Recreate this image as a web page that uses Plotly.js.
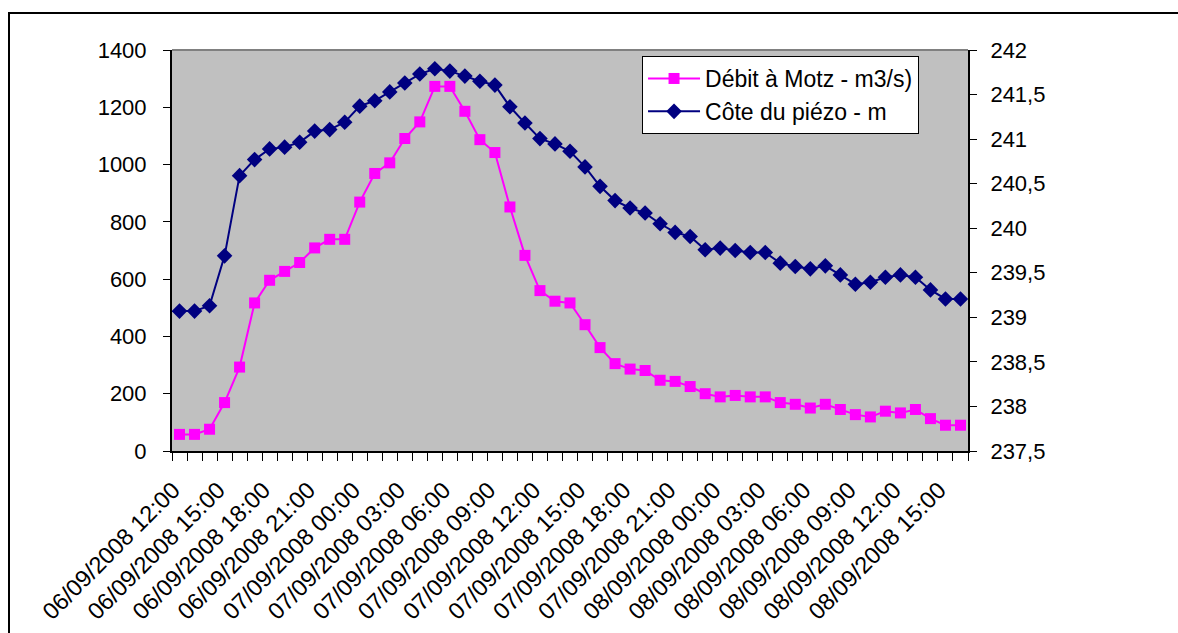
<!DOCTYPE html>
<html>
<head>
<meta charset="utf-8">
<script src="https://cdn.plot.ly/plotly-3.0.1.min.js"></script>
<style>
  html, body { margin: 0; padding: 0; width: 1178px; height: 633px; overflow: hidden; background: #ffffff; }
  #chart { position: absolute; left: 0; top: 0; width: 1178px; height: 633px; }
  #frame { position: absolute; left: 8px; top: 12px; width: 1300px; height: 800px; border: 2px solid #000; pointer-events: none; }
</style>
</head>
<body>
<div id="chart"></div>
<div id="frame"></div>
<script>
// Hourly timestamps (06/09/2008 12:00 -> 08/09/2008 16:00)
const times = [
  "2008-09-06 12:00","2008-09-06 13:00","2008-09-06 14:00","2008-09-06 15:00","2008-09-06 16:00",
  "2008-09-06 17:00","2008-09-06 18:00","2008-09-06 19:00","2008-09-06 20:00","2008-09-06 21:00",
  "2008-09-06 22:00","2008-09-06 23:00","2008-09-07 00:00","2008-09-07 01:00","2008-09-07 02:00",
  "2008-09-07 03:00","2008-09-07 04:00","2008-09-07 05:00","2008-09-07 06:00","2008-09-07 07:00",
  "2008-09-07 08:00","2008-09-07 09:00","2008-09-07 10:00","2008-09-07 11:00","2008-09-07 12:00",
  "2008-09-07 13:00","2008-09-07 14:00","2008-09-07 15:00","2008-09-07 16:00","2008-09-07 17:00",
  "2008-09-07 18:00","2008-09-07 19:00","2008-09-07 20:00","2008-09-07 21:00","2008-09-07 22:00",
  "2008-09-07 23:00","2008-09-08 00:00","2008-09-08 01:00","2008-09-08 02:00","2008-09-08 03:00",
  "2008-09-08 04:00","2008-09-08 05:00","2008-09-08 06:00","2008-09-08 07:00","2008-09-08 08:00",
  "2008-09-08 09:00","2008-09-08 10:00","2008-09-08 11:00","2008-09-08 12:00","2008-09-08 13:00",
  "2008-09-08 14:00","2008-09-08 15:00","2008-09-08 16:00"
];

// Tick labels (every third hour)
const tickLabels = [
  "06/09/2008 12:00","06/09/2008 15:00","06/09/2008 18:00","06/09/2008 21:00",
  "07/09/2008 00:00","07/09/2008 03:00","07/09/2008 06:00","07/09/2008 09:00",
  "07/09/2008 12:00","07/09/2008 15:00","07/09/2008 18:00","07/09/2008 21:00",
  "08/09/2008 00:00","08/09/2008 03:00","08/09/2008 06:00","08/09/2008 09:00",
  "08/09/2008 12:00","08/09/2008 15:00"
];

// Débit à Motz (m3/s) - left axis
const debit = [
  58, 58, 76, 169, 293, 517, 596, 627, 658, 709,
  739, 739, 869, 969, 1006, 1091, 1149, 1273, 1273, 1186,
  1087, 1042, 852, 683, 560, 523, 517, 441, 361, 305,
  286, 281, 247, 243, 225, 200, 189, 194, 189, 189,
  169, 163, 150, 163, 145, 127, 119, 139, 133, 145,
  113, 90, 90
];

// Côte du piézo (m) - right axis
const cote = [
  239.07, 239.07, 239.13, 239.69, 240.59, 240.77, 240.89, 240.91, 240.965, 241.09,
  241.107, 241.19, 241.37, 241.43, 241.53, 241.63, 241.73, 241.79, 241.763, 241.707,
  241.65, 241.606, 241.363, 241.18, 241.006, 240.946, 240.863, 240.688, 240.47, 240.31,
  240.227, 240.17, 240.05, 239.953, 239.907, 239.758, 239.777, 239.75, 239.727, 239.727,
  239.608, 239.57, 239.544, 239.578, 239.476, 239.372, 239.394, 239.45, 239.476, 239.45,
  239.308, 239.206, 239.206
];

const seriesNames = ["Débit à Motz - m3/s)", "Côte du piézo - m"];

const FONT = "Liberation Sans, Arial, sans-serif";

// Tick label anchors: every 3rd timestamp, nudged slightly left (label end sits left of the point, like Excel)
const toMs = s => Date.parse(s.replace(" ", "T") + ":00Z");
const fmt = ms => new Date(ms).toISOString().slice(0, 19).replace("T", " ");
const tickVals = tickLabels.map((_, k) => fmt(toMs(times[3 * k]) - 25 * 60000));

const traces = [
  {
    x: times, y: debit, name: seriesNames[0], type: "scatter", mode: "lines+markers",
    yaxis: "y",
    line: { color: "#ff00ff", width: 2 },
    marker: { symbol: "square", size: 11, color: "#ff00ff" }
  },
  {
    x: times, y: cote, name: seriesNames[1], type: "scatter", mode: "lines+markers",
    yaxis: "y2",
    line: { color: "#000080", width: 2 },
    marker: { symbol: "diamond", size: 12, color: "#000080" }
  }
];

const layout = {
  width: 1178, height: 633,
  margin: { l: 172, r: 210, t: 50, b: 182, pad: 0 },
  paper_bgcolor: "#ffffff",
  plot_bgcolor: "#c0c0c0",
  separators: ", ",
  font: { family: FONT, size: 22, color: "#000" },
  showlegend: true,
  legend: {
    x: 0.5905, y: 0.985, xanchor: "left", yanchor: "top",
    bgcolor: "#ffffff", bordercolor: "#000", borderwidth: 1,
    font: { family: FONT, size: 23, color: "#000" },
    tracegroupgap: 0, itemwidth: 52
  },
  xaxis: {
    type: "date",
    range: ["2008-09-06 11:30", "2008-09-08 16:30"],
    tickmode: "array",
    tickvals: tickVals,
    ticktext: tickLabels,
    tickangle: -45,
    ticks: "",
    ticklabelstandoff: 14,
    minor: { ticks: "outside", ticklen: 8, tickwidth: 1, tickcolor: "#000",
             tick0: "2008-09-06 11:30", dtick: 3600000, showgrid: false },
    showgrid: false, zeroline: false,
    showline: true, linecolor: "#000", linewidth: 2,
    tickfont: { family: FONT, size: 23.5, color: "#000" },
    fixedrange: true
  },
  yaxis: {
    range: [0, 1400], dtick: 200, tick0: 0,
    ticks: "outside", ticklen: 7, tickwidth: 1, tickcolor: "#000",
    ticklabelstandoff: 12,
    showgrid: false, zeroline: false,
    showline: true, linecolor: "#000", linewidth: 2,
    tickfont: { family: FONT, size: 22, color: "#000" }
  },
  yaxis2: {
    overlaying: "y", side: "right",
    range: [237.5, 242], dtick: 0.5, tick0: 237.5,
    ticks: "outside", ticklen: 7, tickwidth: 1, tickcolor: "#000",
    ticklabelstandoff: 9,
    showgrid: false, zeroline: false,
    showline: true, linecolor: "#000", linewidth: 2,
    tickfont: { family: FONT, size: 22, color: "#000" }
  },
  yaxis3: {
    overlaying: "y", side: "left",
    range: [0, 1400], dtick: 200, tick0: 0,
    ticks: "inside", ticklen: 6, tickwidth: 1, tickcolor: "#000",
    showticklabels: false, showgrid: false, zeroline: false, showline: false
  },
  yaxis4: {
    overlaying: "y", side: "right",
    range: [237.5, 242], dtick: 0.5, tick0: 237.5,
    ticks: "inside", ticklen: 6, tickwidth: 1, tickcolor: "#000",
    showticklabels: false, showgrid: false, zeroline: false, showline: false
  },
  shapes: [
    { type: "line", xref: "paper", yref: "paper", x0: 0, x1: 1, y0: 1, y1: 1,
      line: { color: "#808080", width: 2 } }
  ]
};

Plotly.newPlot("chart", traces, layout, { displayModeBar: false, staticPlot: true });
</script>
</body>
</html>
